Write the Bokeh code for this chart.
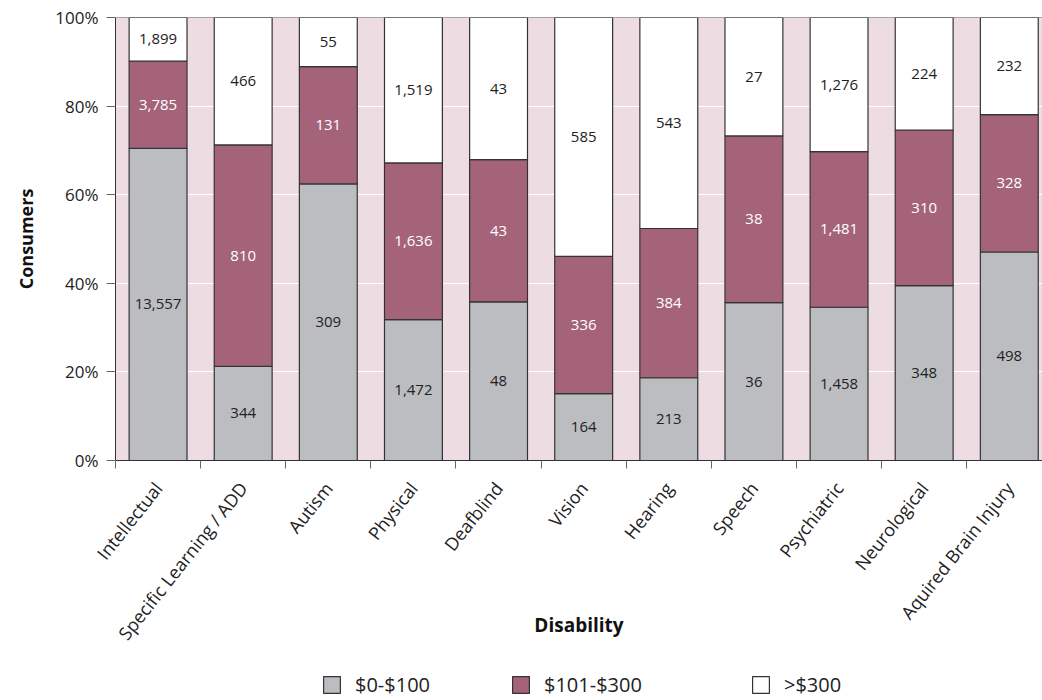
import numpy as np
from bokeh.plotting import figure
from bokeh.layouts import column
from bokeh.models import (ColumnDataSource, FixedTicker, Legend, LegendItem,
                          Span, Range1d)
from bokeh.core.properties import value
from bokeh.embed import file_html
from bokeh.resources import INLINE

# ---- data ----
categories = ["Intellectual", "Specific Learning / ADD", "Autism", "Physical",
              "Deafblind", "Vision", "Hearing", "Speech", "Psychiatric",
              "Neurological", "Aquired Brain Injury"]
low = [13557, 344, 309, 1472, 48, 164, 213, 36, 1458, 348, 498]      # $0-$100
mid = [3785, 810, 131, 1636, 43, 336, 384, 38, 1481, 310, 328]       # $101-$300
high = [1899, 466, 55, 1519, 43, 585, 543, 27, 1276, 224, 232]       # >$300
series_names = ["$0-$100", "$101-$300", ">$300"]
y_ticks = [0.0, 0.2, 0.4, 0.6, 0.8, 1.0]
y_tick_labels = ["0%", "20%", "40%", "60%", "80%", "100%"]

FONT = "Open Sans"
PINK = "#eddde3"
GRAY = "#bcbdc1"
RED = "#a5637a"
WHITE = "#ffffff"
EDGE = "#333333"
COLORS = [GRAY, RED, WHITE]

lo = np.array(low, float)
mi = np.array(mid, float)
hi = np.array(high, float)
tot = lo + mi + hi
x = np.arange(len(categories), dtype=float)

src = ColumnDataSource(dict(
    x=x,
    p_low=lo / tot, p_mid=mi / tot, p_high=hi / tot,
    c_low=(lo / tot) / 2,
    c_mid=(lo / tot) + (mi / tot) / 2,
    c_high=(lo + mi) / tot + (hi / tot) / 2,
    t_low=[f"{v:,}" for v in low],
    t_mid=[f"{v:,}" for v in mid],
    t_high=[f"{v:,}" for v in high],
))

p = figure(width=1042, height=662, output_backend="svg", toolbar_location=None,
           x_range=Range1d(-0.5, 10.39), y_range=Range1d(0, 1),
           min_border_left=115, min_border_top=17, min_border_bottom=202,
           min_border_right=0)
p.outline_line_color = None
p.background_fill_color = PINK
p.border_fill_color = "white"

rs = p.vbar_stack(["p_low", "p_mid", "p_high"], x="x", width=0.68,
                  fill_color=COLORS, line_color=EDGE, line_width=1.2,
                  source=src)

for col, ycol, color in [("t_low", "c_low", "#222222"),
                         ("t_mid", "c_mid", "#ffffff"),
                         ("t_high", "c_high", "#222222")]:
    p.text(x="x", y=ycol, text=col, source=src, text_align="center",
           text_baseline="middle", text_font=value(FONT),
           text_font_size="15px", text_color=color)

# grid
p.xgrid.visible = False
p.ygrid.ticker = FixedTicker(ticks=y_ticks[1:-1])
p.ygrid.grid_line_color = "white"
p.ygrid.grid_line_width = 1
p.add_layout(Span(location=1.0, dimension="width", line_color="#555555",
                  line_width=1.2))

# x axis
boundaries = list(np.arange(len(categories) + 1) - 0.5)
p.xaxis.ticker = FixedTicker(ticks=list(x), minor_ticks=boundaries)
p.xaxis.major_label_overrides = {int(i): c for i, c in zip(x, categories)}
p.xaxis.major_tick_in = 0
p.xaxis.major_tick_out = 0
p.xaxis.minor_tick_in = 0
p.xaxis.minor_tick_out = 8
p.xaxis.minor_tick_line_color = "#666666"
p.xaxis.axis_line_color = EDGE
p.xaxis.major_label_orientation = 0.9
p.xaxis.major_label_standoff = 16
p.xaxis.major_label_text_font = FONT
p.xaxis.major_label_text_font_size = "18px"
p.xaxis.major_label_text_color = "#222222"
p.xaxis.axis_label = "Disability"
p.xaxis.axis_label_text_font = FONT
p.xaxis.axis_label_text_font_style = "bold"
p.xaxis.axis_label_text_font_size = "19px"
p.xaxis.axis_label_text_color = "#111111"
p.xaxis.axis_label_standoff = -43

# y axis
p.yaxis.ticker = FixedTicker(ticks=y_ticks)
p.yaxis.major_label_overrides = {t: l for t, l in zip(y_ticks, y_tick_labels)}
p.yaxis.major_tick_in = 0
p.yaxis.major_tick_out = 9
p.yaxis.major_tick_line_color = "#666666"
p.yaxis.minor_tick_line_color = None
p.yaxis.axis_line_color = EDGE
p.yaxis.major_label_standoff = 8
p.yaxis.major_label_text_font = FONT
p.yaxis.major_label_text_font_size = "17px"
p.yaxis.major_label_text_color = "#222222"
p.yaxis.axis_label = "Consumers"
p.yaxis.axis_label_text_font = FONT
p.yaxis.axis_label_text_font_style = "bold"
p.yaxis.axis_label_text_font_size = "18px"
p.yaxis.axis_label_text_color = "#111111"
p.yaxis.axis_label_standoff = 14

# ---- legend strip (frame aligned with the chart frame above) ----
lg = figure(width=1042, height=38, output_backend="svg", toolbar_location=None,
            x_axis_type=None, y_axis_type=None, x_range=Range1d(0, 1),
            y_range=Range1d(0, 1), min_border_left=0, min_border_right=0,
            min_border_top=0, min_border_bottom=0)
lg.outline_line_color = None
lg.xgrid.visible = False
lg.ygrid.visible = False
lg.background_fill_color = "white"
lg.border_fill_color = "white"

legend_x = [206, 395, 635]
for name, color, lx in zip(series_names, COLORS, legend_x):
    # legend proxy: a single swatch kept far outside the visible range
    proxy = lg.vbar(x=[-50.0], top=[-50.0], bottom=[-51.0], width=0.1,
                    fill_color=color, line_color=EDGE, line_width=1.2)
    leg = Legend(items=[LegendItem(label=name, renderers=[proxy])],
                 location=(lx, 2), glyph_width=21, glyph_height=21,
                 label_standoff=13, label_text_font=FONT,
                 label_text_font_size="20px", label_text_color="#222222",
                 border_line_color=None, background_fill_alpha=0,
                 padding=0, margin=0)
    lg.add_layout(leg, "center")

open("out.html", "w").write(file_html(column(p, lg), INLINE))
